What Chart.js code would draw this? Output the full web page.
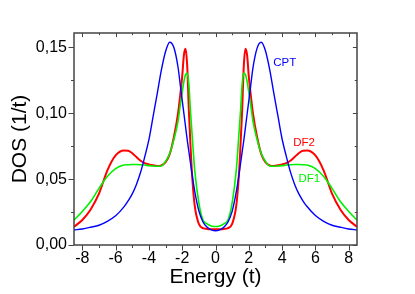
<!DOCTYPE html>
<html>
<head>
<meta charset="utf-8">
<script src="https://cdn.jsdelivr.net/npm/chart.js"></script>
<style>
  body { margin: 0; background: #fff; }
  #wrap { width: 415px; height: 294px; }
</style>
</head>
<body>
<div id="wrap"><canvas id="dos-chart" width="415" height="294"></canvas></div>
<script>
// energy grid (units of t)
const energy = [-8.5, -8, -7.5, -7, -6.5, -6, -5.5, -5.25, -5, -4.75, -4.5, -4.25, -4, -3.75, -3.5, -3.25, -3, -2.75, -2.5, -2.25, -2.1, -2, -1.9, -1.8, -1.7, -1.6, -1.5, -1.4, -1.25, -1, -0.75, -0.5, -0.25,
  0,
  0.25, 0.5, 0.75, 1, 1.25, 1.4, 1.5, 1.6, 1.7, 1.8, 1.9, 2, 2.1, 2.25, 2.5, 2.75, 3, 3.25, 3.5, 3.75, 4, 4.25, 4.5, 4.75, 5, 5.25, 5.5, 6, 6.5, 7, 7.5, 8, 8.5];

const dosCPT = [0.0114, 0.0122, 0.0135, 0.0150, 0.0180, 0.0222, 0.0290, 0.0335, 0.0388, 0.0460, 0.0552, 0.0670, 0.0800, 0.0975, 0.1150, 0.1330, 0.1470, 0.1540, 0.1500, 0.1350, 0.1200, 0.1100, 0.1000, 0.0900, 0.0800, 0.0710, 0.0620, 0.0530, 0.0410, 0.0260, 0.0175, 0.0135, 0.0115,
  0.0108,
  0.0115, 0.0135, 0.0175, 0.0255, 0.0405, 0.0525, 0.0615, 0.0705, 0.0795, 0.0895, 0.0995, 0.1095, 0.1195, 0.1345, 0.1495, 0.1540, 0.1475, 0.1335, 0.1155, 0.0980, 0.0805, 0.0675, 0.0555, 0.0462, 0.0390, 0.0336, 0.0292, 0.0224, 0.0180, 0.0150, 0.0135, 0.0122, 0.0114];

const dosDF2 = [0.0139, 0.0190, 0.0270, 0.0390, 0.0565, 0.0680, 0.0718, 0.0716, 0.0697, 0.0668, 0.0640, 0.0622, 0.0612, 0.0605, 0.0600, 0.0605, 0.0630, 0.0690, 0.0820, 0.1000, 0.1160, 0.1280, 0.1440, 0.1490, 0.1360, 0.1020, 0.0750, 0.0520, 0.0300, 0.0160, 0.0128, 0.0122, 0.0120,
  0.0119,
  0.0120, 0.0122, 0.0128, 0.0160, 0.0300, 0.0520, 0.0750, 0.1020, 0.1360, 0.1490, 0.1440, 0.1280, 0.1160, 0.1000, 0.0820, 0.0690, 0.0630, 0.0605, 0.0600, 0.0605, 0.0612, 0.0622, 0.0640, 0.0668, 0.0697, 0.0716, 0.0718, 0.0680, 0.0565, 0.0390, 0.0270, 0.0190, 0.0139];

const dosDF1 = [0.0189, 0.0255, 0.0330, 0.0430, 0.0520, 0.0580, 0.0607, 0.0610, 0.0611, 0.0611, 0.0610, 0.0607, 0.0603, 0.0600, 0.0598, 0.0600, 0.0635, 0.0695, 0.0800, 0.0940, 0.1080, 0.1160, 0.1240, 0.1295, 0.1305, 0.1220, 0.1010, 0.0830, 0.0570, 0.0320, 0.0190, 0.0160, 0.0145,
  0.0140,
  0.0145, 0.0160, 0.0190, 0.0320, 0.0570, 0.0830, 0.1010, 0.1220, 0.1305, 0.1295, 0.1240, 0.1160, 0.1080, 0.0940, 0.0800, 0.0695, 0.0635, 0.0600, 0.0598, 0.0600, 0.0603, 0.0607, 0.0610, 0.0611, 0.0611, 0.0610, 0.0607, 0.0580, 0.0520, 0.0430, 0.0330, 0.0255, 0.0189];

// tick values and their labels
const xTicks = [-8, -6, -4, -2, 0, 2, 4, 6, 8];
const xTickLabels = ['-8', '-6', '-4', '-2', '0', '2', '4', '6', '8'];
const xMinorTicks = [-7, -5, -3, -1, 1, 3, 5, 7];
const yTicks = [0, 0.05, 0.10, 0.15];
const yTickLabels = ['0,00', '0,05', '0,10', '0,15'];
const yMinorTicks = [0.025, 0.075, 0.125];

// curve names written next to the curves
const curveNames = ['CPT', 'DF2', 'DF1'];
const curveColors = ['#0000ff', '#ff0000', '#00f000'];
const nameSpots = [[3.47, 0.1386], [4.67, 0.0777], [4.98, 0.0500]];

function toPoints(ys) {
  return energy.map((e, i) => ({ x: e, y: ys[i] }));
}

// box + ticks: out on bottom/left, in on top/right
const frame = {
  id: 'frame',
  afterDraw(chart) {
    const ctx = chart.ctx;
    const a = chart.chartArea;
    const xs = chart.scales.x;
    const ys = chart.scales.y;
    ctx.save();
    ctx.strokeStyle = '#444';
    ctx.lineWidth = 1;
    ctx.beginPath();
    xTicks.concat(xMinorTicks).forEach(v => {
      const len = xTicks.includes(v) ? 5.5 : 3;
      const px = Math.round(xs.getPixelForValue(v)) + 0.5;
      ctx.moveTo(px, a.bottom); ctx.lineTo(px, a.bottom + len);
      ctx.moveTo(px, a.top); ctx.lineTo(px, a.top + len * 0.75);
    });
    yTicks.concat(yMinorTicks).forEach(v => {
      const len = yTicks.includes(v) ? 5.5 : 3;
      const py = Math.round(ys.getPixelForValue(v)) + 0.5;
      ctx.moveTo(a.left, py); ctx.lineTo(a.left - len, py);
      ctx.moveTo(a.right, py); ctx.lineTo(a.right - len * 0.75, py);
    });
    ctx.stroke();
    ctx.lineWidth = 1.5;
    ctx.strokeRect(a.left, a.top, a.right - a.left, a.bottom - a.top);

    ctx.font = '11.5px "Liberation Sans", Arial, sans-serif';
    ctx.textBaseline = 'middle';
    ctx.textAlign = 'left';
    curveNames.forEach((name, i) => {
      ctx.fillStyle = curveColors[i];
      ctx.fillText(name, xs.getPixelForValue(nameSpots[i][0]), ys.getPixelForValue(nameSpots[i][1]));
    });
    ctx.restore();
  }
};

const ctx = document.getElementById('dos-chart').getContext('2d');
new Chart(ctx, {
  type: 'line',
  data: {
    datasets: [
      { label: 'CPT', data: toPoints(dosCPT), borderColor: curveColors[0], borderWidth: 1.4, order: 0 },
      { label: 'DF1', data: toPoints(dosDF1), borderColor: curveColors[2], borderWidth: 1.6, order: 1 },
      { label: 'DF2', data: toPoints(dosDF2), borderColor: curveColors[1], borderWidth: 2, order: 2 }
    ]
  },
  options: {
    responsive: false,
    animation: false,
    devicePixelRatio: 1,
    layout: { padding: { left: 0, top: 33, right: 58, bottom: 0 } },
    elements: {
      point: { radius: 0 },
      line: { cubicInterpolationMode: 'monotone', fill: false }
    },
    plugins: { legend: { display: false }, tooltip: { enabled: false } },
    scales: {
      x: {
        type: 'linear',
        min: -8.5,
        max: 8.5,
        afterBuildTicks: s => { s.ticks = xTicks.map(v => ({ value: v })); },
        afterFit: s => { s.height = 49; },
        grid: { display: false, drawTicks: false },
        border: { display: false },
        ticks: {
          padding: 4,
          maxRotation: 0,
          autoSkip: false,
          color: '#000',
          font: { family: '"Liberation Sans", Arial, sans-serif', size: 16 },
          callback: (v, i) => xTickLabels[i]
        },
        title: {
          display: true,
          text: 'Energy (t)',
          color: '#000',
          padding: { top: 0, bottom: 4 },
          font: { family: '"Liberation Sans", Arial, sans-serif', size: 21, weight: 'normal' }
        }
      },
      y: {
        min: 0,
        max: 0.161,
        afterBuildTicks: s => { s.ticks = yTicks.map(v => ({ value: v })); },
        afterFit: s => { s.width = 74; },
        grid: { display: false, drawTicks: false },
        border: { display: false },
        ticks: {
          padding: 7,
          autoSkip: false,
          color: '#000',
          font: { family: '"Liberation Sans", Arial, sans-serif', size: 16 },
          callback: (v, i) => yTickLabels[i]
        },
        title: {
          display: true,
          text: 'DOS (1/t)',
          color: '#000',
          padding: { top: 8, bottom: 0 },
          font: { family: '"Liberation Sans", Arial, sans-serif', size: 21, weight: 'normal' }
        }
      }
    }
  },
  plugins: [frame]
});
</script>
</body>
</html>
